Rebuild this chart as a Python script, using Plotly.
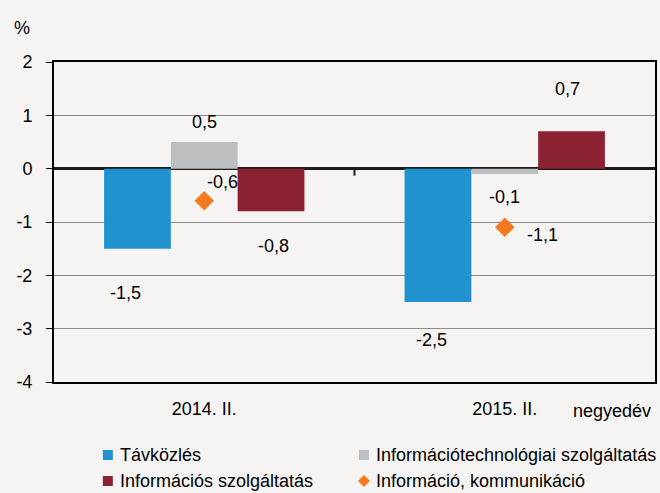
import plotly.graph_objects as go

categories = ["2014. II.", "2015. II."]
tavkozles = [-1.5, -2.5]
infotech = [0.5, -0.1]
infoszolg = [-0.8, 0.7]
infokomm = [-0.6, -1.1]
y_ticks = [2, 1, 0, -1, -2, -3, -4]
y_ticklabels = ["2", "1", "0", "-1", "-2", "-3", "-4"]
series_names = ["Távközlés", "Információtechnológiai szolgáltatás",
                "Információs szolgáltatás", "Információ, kommunikáció"]
colors = ["#2191CF", "#BDBFC1", "#8B2231", "#F47A20"]

FONT = "Liberation Sans, Arial, sans-serif"
FS = 18
BG = "#F5F4F2"

W, H = 660, 493
ML, MR, MT, MB = 54, 3, 62, 111
PW, PH = W - ML - MR, H - MT - MB

def px2paper(x, y):
    return (x - ML) / PW, (H - MB - y) / PH

def hu(v):
    return f"{v:.1f}".replace(".", ",")

fig = go.Figure()
for name, vals, col in zip(series_names[:3], [tavkozles, infotech, infoszolg], colors[:3]):
    fig.add_trace(go.Bar(x=categories, y=vals, name=name,
                         marker=dict(color=col, line=dict(width=0))))
fig.add_trace(go.Scatter(x=categories, y=infokomm, name=series_names[3],
                         mode="markers",
                         marker=dict(symbol="diamond", size=15, color=colors[3])))

# data labels (pixel offsets are styling only)
series = [tavkozles, infotech, infoszolg]
bar_dx = [-67, 0, 67]
label_off = {
    (0, 0): (-12, -44), (0, 1): (-6, -38),
    (1, 0): (0, 20), (1, 1): (0, -23),
    (2, 0): (2, -35), (2, 1): (-4, 42),
}
anns = []
for si, vals in enumerate(series):
    for ci, v in enumerate(vals):
        dx, dy = label_off[(si, ci)]
        anns.append(dict(x=categories[ci], y=v, xref="x", yref="y", text=hu(v),
                         showarrow=False, xshift=bar_dx[si] + dx, yshift=dy,
                         font=dict(size=FS, color="#000", family=FONT)))
diamond_off = [(18, 19), (38, -8)]
for ci, v in enumerate(infokomm):
    dx, dy = diamond_off[ci]
    anns.append(dict(x=categories[ci], y=v, xref="x", yref="y", text=hu(v),
                     showarrow=False, xshift=dx, yshift=dy,
                     font=dict(size=FS, color="#000", family=FONT)))
anns.append(dict(x=0, y=1, xref="paper", yref="paper", text="%", showarrow=False,
                 xanchor="center", yanchor="middle", xshift=-32, yshift=34,
                 font=dict(size=FS, color="#000", family=FONT)))
anns.append(dict(x=1, y=0, xref="paper", yref="paper", text="negyedév", showarrow=False,
                 xanchor="right", yanchor="middle", xshift=-2, yshift=-29,
                 font=dict(size=FS, color="#000", family=FONT)))

# manual legend (two columns)
leg_pos = [(108, 455), (365, 455), (108, 481), (365, 481)]
shapes = []
for i, (name, col) in enumerate(zip(series_names, colors)):
    cx, cy = leg_pos[i]
    if i < 3:
        x0, y0 = px2paper(cx - 5, cy + 5)
        x1, y1 = px2paper(cx + 5, cy - 5)
        shapes.append(dict(type="rect", xref="paper", yref="paper",
                           x0=x0, y0=y0, x1=x1, y1=y1,
                           fillcolor=col, line=dict(width=0)))
    else:
        pts = [(cx, cy - 6), (cx + 6, cy), (cx, cy + 6), (cx - 6, cy)]
        pp = [px2paper(a, b) for a, b in pts]
        path = "M" + " L".join(f"{a},{b}" for a, b in pp) + " Z"
        shapes.append(dict(type="path", xref="paper", yref="paper", path=path,
                           fillcolor=col, line=dict(width=0)))
    tx, ty = px2paper(cx + 10, cy)
    anns.append(dict(x=tx, y=ty, xref="paper", yref="paper", text=name,
                     showarrow=False, xanchor="left", yanchor="middle",
                     font=dict(size=FS, color="#000", family=FONT)))

# category boundary tick on the zero line
shapes.append(dict(type="line", xref="x", yref="y", x0=0.5, x1=0.5,
                   ysizemode="pixel", yanchor=0, y0=0, y1=-7,
                   line=dict(color="#1A1A1A", width=2)))

fig.update_layout(
    width=W, height=H,
    margin=dict(l=ML, r=MR, t=MT, b=MB),
    paper_bgcolor=BG, plot_bgcolor=BG,
    barmode="group", bargap=1/3, bargroupgap=0,
    font=dict(family=FONT, size=FS, color="#000"),
    showlegend=False,
    annotations=anns,
    shapes=shapes,
    xaxis=dict(showgrid=False, showline=True, linecolor="#000", linewidth=2, mirror=True,
               ticks="", ticklabelstandoff=9, tickfont=dict(size=FS, family=FONT)),
    yaxis=dict(range=[-4, 2], tickvals=y_ticks, ticktext=y_ticklabels,
               showgrid=True, gridcolor="#8C8C8C", gridwidth=1,
               zeroline=True, zerolinecolor="#1A1A1A", zerolinewidth=2.5,
               showline=True, linecolor="#000", linewidth=2, mirror=True,
               ticks="outside", ticklen=6, tickcolor="#000", tickwidth=1,
               ticklabelstandoff=10, tickfont=dict(size=FS, family=FONT)),
)

fig.write_html(
    "out.html",
    config={"displayModeBar": False},
    post_script="document.body.style.margin='0';document.body.style.background='%s';" % BG,
)
